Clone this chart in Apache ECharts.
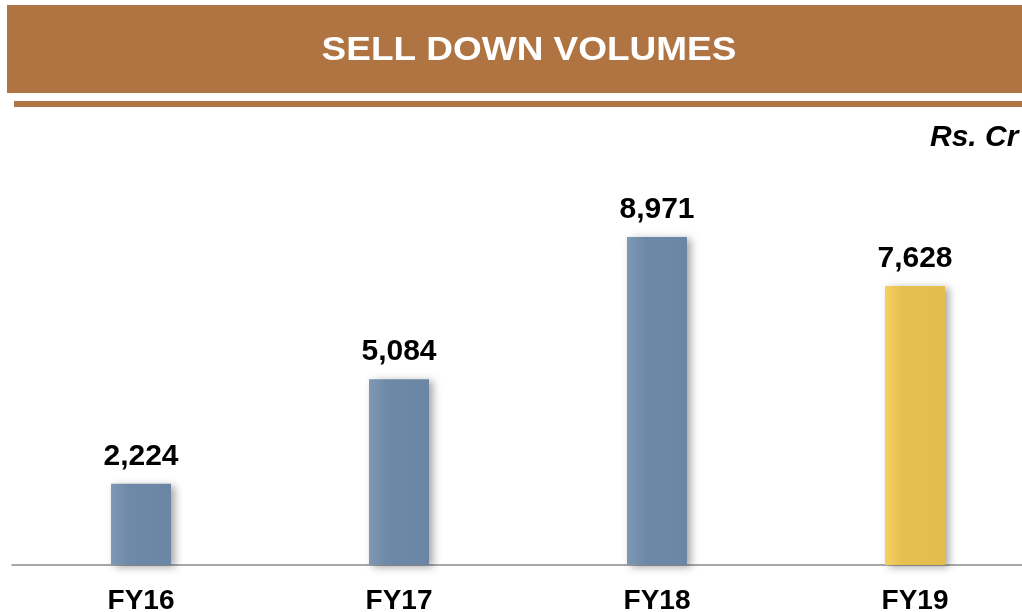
<!DOCTYPE html>
<html>
<head>
<meta charset="utf-8">
<script src="https://cdn.jsdelivr.net/npm/echarts@6/dist/echarts.min.js"></script>
<style>
  html, body { margin: 0; padding: 0; background: #fff; }
  #chart { width: 1022px; height: 612px; }
</style>
</head>
<body>
<div id="chart"></div>
<script>
const categories = ['FY16', 'FY17', 'FY18', 'FY19'];
const volumes = [2224, 5084, 8971, 7628];
const highlight = [false, false, false, true];

const blue = new echarts.graphic.LinearGradient(0, 0, 1, 0, [
  { offset: 0, color: '#7f98b4' },
  { offset: 0.3, color: '#6e89a7' },
  { offset: 1, color: '#6b86a4' }
]);
const yellow = new echarts.graphic.LinearGradient(0, 0, 1, 0, [
  { offset: 0, color: '#f5d161' },
  { offset: 0.3, color: '#e5bf4f' },
  { offset: 1, color: '#e3bd4d' }
]);

const chart = echarts.init(document.getElementById('chart'));
chart.setOption({
  animation: false,
  textStyle: { fontFamily: 'Liberation Sans, Arial, sans-serif' },
  graphic: [
    {
      type: 'rect',
      shape: { x: 7, y: 5, width: 1015, height: 88 },
      style: { fill: '#b07443' }
    },
    {
      type: 'rect',
      shape: { x: 14, y: 101, width: 1008, height: 6 },
      style: { fill: '#b07443' }
    },
    {
      type: 'text',
      x: 529,
      y: 51,
      scaleX: 1.12,
      style: {
        text: 'SELL DOWN VOLUMES',
        fill: '#fff',
        font: 'bold 33px "Liberation Sans", Arial',
        align: 'center',
        verticalAlign: 'middle'
      }
    },
    {
      type: 'text',
      x: 930,
      y: 138,
      style: {
        text: 'Rs. Cr',
        fill: '#000',
        font: 'italic bold 30px "Liberation Sans", Arial',
        align: 'left',
        verticalAlign: 'middle'
      }
    }
  ],
  grid: { left: 12, width: 1032, top: 199.4, bottom: 47, outerBoundsMode: 'none', containLabel: false },
  xAxis: {
    type: 'category',
    data: categories,
    axisTick: { show: false },
    axisLine: { lineStyle: { color: '#8c8c8c', width: 1.5 } },
    axisLabel: {
      color: '#000',
      fontWeight: 'bold',
      fontSize: 28,
      margin: 22
    }
  },
  yAxis: {
    type: 'value',
    min: 0,
    max: 10000,
    show: false,
    splitLine: { show: false }
  },
  series: [{
    type: 'bar',
    barWidth: 60,
    data: volumes.map((v, i) => ({
      value: v,
      itemStyle: { color: highlight[i] ? yellow : blue }
    })),
    itemStyle: {
      shadowColor: 'rgba(0,0,0,0.35)',
      shadowBlur: 8,
      shadowOffsetX: 4,
      shadowOffsetY: 2
    },
    label: {
      show: true,
      position: 'top',
      distance: 12,
      color: '#000',
      fontWeight: 'bold',
      fontSize: 30,
      formatter: p => p.value.toLocaleString('en-US')
    }
  }]
});
</script>
</body>
</html>
